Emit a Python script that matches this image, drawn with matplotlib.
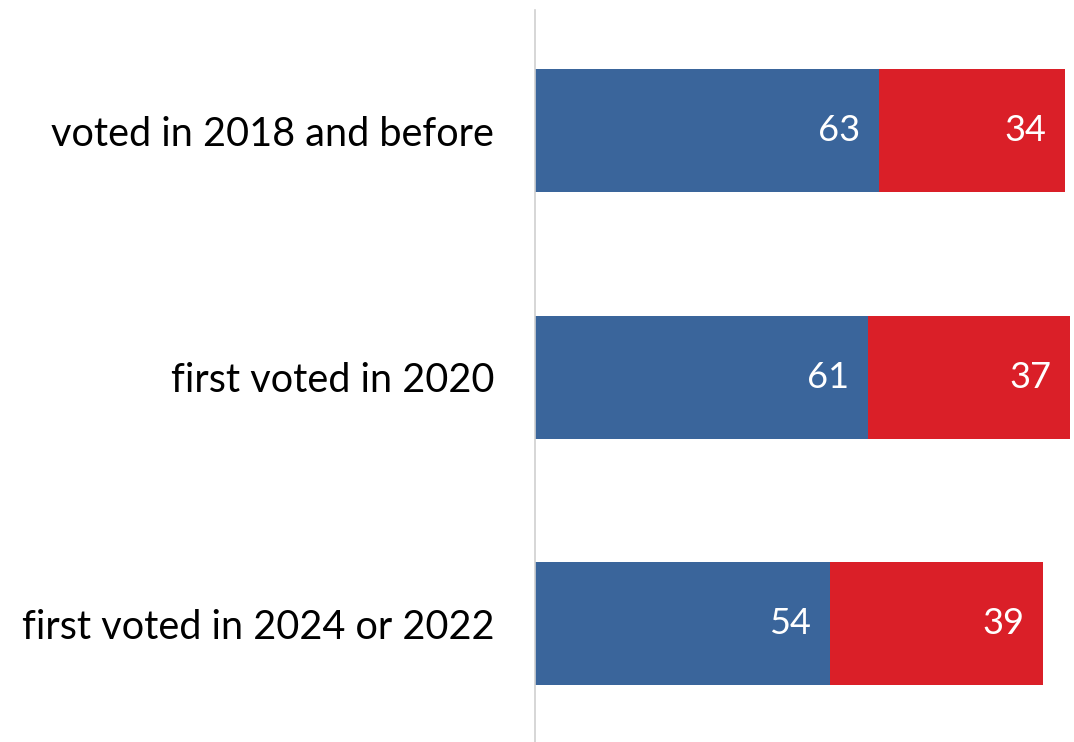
import matplotlib.pyplot as plt

categories = ['voted in 2018 and before', 'first voted in 2020', 'first voted in 2024 or 2022']
dem = [63, 61, 54]
rep = [34, 37, 39]

plt.rcParams['font.family'] = ['Lato', 'DejaVu Sans']

fig = plt.figure(figsize=(10.74, 7.42), dpi=100)
ax = fig.add_axes([535 / 1074, 0, 1 - 535 / 1074, 732 / 742])

pos = list(range(len(categories)))
ax.barh(pos, dem, height=0.5, color='#3A659B')
ax.barh(pos, rep, left=dem, height=0.5, color='#DA1F28')

for y, d, r in zip(pos, dem, rep):
    ax.text(d - 3.4, y, str(d), ha='right', va='center', color='white', fontsize=26)
    ax.text(d + r - 3.4, y, str(r), ha='right', va='center', color='white', fontsize=26)

ax.set_xlim(0, 98.7)
ax.set_ylim(2.48, -0.49)
ax.set_yticks(pos)
ax.set_yticklabels(categories, fontsize=28.5)
ax.tick_params(axis='y', length=0, pad=29.5)
ax.set_xticks([])
for s in ['top', 'right', 'bottom']:
    ax.spines[s].set_visible(False)
ax.spines['left'].set_color('#D0D0D0')
ax.spines['left'].set_linewidth(1.2)

fig.savefig('out.png', dpi=100)
